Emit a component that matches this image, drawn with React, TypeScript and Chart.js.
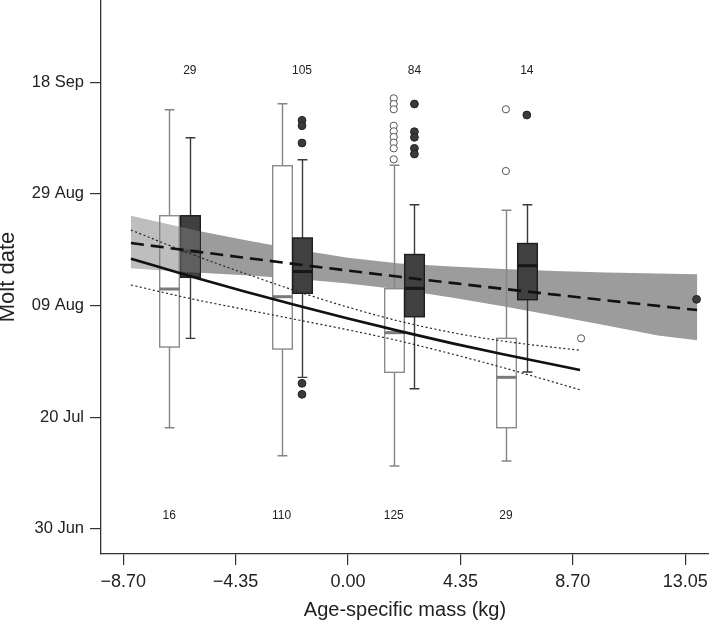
import React, { useEffect, useRef } from 'react';
import { Chart, registerables } from 'chart.js';

Chart.register(...registerables);

const FONT = "'Liberation Sans', Arial, sans-serif";

// Axes
const X_MIN = -9.559;
const X_MAX = 13.971;
const Y_MIN = -4.53;
const Y_MAX = 94.75;
const X_TICKS = [-8.7, -4.35, 0, 4.35, 8.7, 13.05];
const X_TICK_LABELS = ['\u22128.70', '\u22124.35', '0.00', '4.35', '8.70', '13.05'];
const Y_TICKS = [0, 20, 40, 60, 80]; // days after 30 Jun
const Y_TICK_LABELS = ['30 Jun', '20 Jul', '09 Aug', '29 Aug', '18 Sep'];

// White boxplots (days after 30 Jun)
const WHITE_X = [-6.92, -2.57, 1.77, 6.11];
const WHITE_WHISK_LO = [18.1, 13.08, 11.24, 12.13];
const WHITE_Q1 = [32.56, 32.2, 28.03, 18.1];
const WHITE_MED = [42.96, 41.58, 35.13, 27.13];
const WHITE_Q3 = [56.09, 65.05, 43.01, 34.12];
const WHITE_WHISK_HI = [75.09, 76.16, 65.13, 57.06];
const WHITE_OUTLIERS = [
  [],
  [],
  [77.13, 76.11, 75.16, 72.22, 71.22, 70.2, 69.18, 68.17, 66.2],
  [75.16, 64.1],
];
const WHITE_COUNTS = ['16', '110', '125', '29'];
const EXTRA_WHITE_X = [9.02];
const EXTRA_WHITE_Y = [34.12];

// Dark boxplots
const DARK_X = [-6.12, -1.78, 2.57, 6.92];
const DARK_WHISK_LO = [34.12, 27.13, 25.09, 28.08];
const DARK_Q1 = [45.05, 42.19, 37.99, 41.04];
const DARK_MED = [49.77, 46.09, 43.08, 47.13];
const DARK_Q3 = [56.09, 52.1, 49.14, 51.11];
const DARK_WHISK_HI = [70.07, 66.13, 58.06, 58.06];
const DARK_OUTLIERS = [
  [],
  [73.19, 72.22, 69.12, 26.06, 24.09],
  [76.11, 71.15, 70.14, 68.17, 67.15],
  [74.14],
];
const DARK_COUNTS = ['29', '105', '84', '14'];
const EXTRA_DARK_X = [13.49];
const EXTRA_DARK_Y = [41.11];

const TOP_LABEL_Y = 82.0;
const BOTTOM_LABEL_Y = 2.28;
const BOX_HALF = 0.38;
const CAP_HALF = 0.19;
const BAND_SPLIT = -5.72;

// White-group fit (solid) and its confidence limits (dotted)
const LINE_X = [-8.4, -6, -4, -2, 0, 2, 4, 6, 8.98];
const SOLID_Y = [48.39, 45.13, 42.53, 40.04, 37.67, 35.41, 33.26, 31.25, 28.44];
const UPPER_DOT_Y = [53.53, 49.11, 45.76, 42.6, 39.7, 37.18, 35.18, 33.63, 31.97];
const LOWER_DOT_Y = [43.68, 41.15, 39.3, 37.48, 35.64, 33.64, 31.34, 28.87, 24.91];

// Dark-group fit (dashed) and its confidence band (grey)
const DASH_X = [-8.4, -6, -4, -2, 0, 2, 4, 6, 8, 10, 12, 13.51];
const DASH_Y = [51.2, 49.75, 48.57, 47.4, 46.26, 45.14, 44.05, 42.99, 41.95, 40.93, 39.93, 39.19];
const BAND_UPPER = [56.09, 53.57, 51.72, 50.02, 48.58, 47.53, 46.99, 46.54, 46.18, 45.91, 45.72, 45.59];
const BAND_LOWER = [46.67, 45.93, 45.41, 44.78, 43.95, 42.85, 41.43, 39.86, 38.15, 36.4, 34.62, 33.76];

const toPts = (xs: number[], ys: number[]) => xs.map((v, i) => ({ x: v, y: ys[i] }));

function bandPath(ctx: CanvasRenderingContext2D, xs: any, ys: any) {
  ctx.beginPath();
  DASH_X.forEach((v, i) => {
    const px = xs.getPixelForValue(v);
    const py = ys.getPixelForValue(BAND_UPPER[i]);
    if (i === 0) ctx.moveTo(px, py);
    else ctx.lineTo(px, py);
  });
  for (let i = DASH_X.length - 1; i >= 0; i--) {
    ctx.lineTo(xs.getPixelForValue(DASH_X[i]), ys.getPixelForValue(BAND_LOWER[i]));
  }
  ctx.closePath();
}

function drawBox(
  ctx: CanvasRenderingContext2D, xs: any, ys: any,
  cxv: number, lo: number, q1: number, med: number, q3: number, hi: number,
  dark: boolean
) {
  const cx = Math.round(xs.getPixelForValue(cxv)) + 0.5;
  const hw = xs.getPixelForValue(cxv + BOX_HALF) - xs.getPixelForValue(cxv);
  const cw = xs.getPixelForValue(cxv + CAP_HALF) - xs.getPixelForValue(cxv);
  const pLo = ys.getPixelForValue(lo);
  const pQ1 = ys.getPixelForValue(q1);
  const pMed = ys.getPixelForValue(med);
  const pQ3 = ys.getPixelForValue(q3);
  const pHi = ys.getPixelForValue(hi);
  ctx.save();
  ctx.strokeStyle = dark ? '#3a3a3a' : '#858585';
  ctx.lineWidth = 1.4;
  ctx.beginPath();
  ctx.moveTo(cx, pLo); ctx.lineTo(cx, pQ1);
  ctx.moveTo(cx, pQ3); ctx.lineTo(cx, pHi);
  ctx.moveTo(cx - cw, pLo); ctx.lineTo(cx + cw, pLo);
  ctx.moveTo(cx - cw, pHi); ctx.lineTo(cx + cw, pHi);
  ctx.stroke();
  ctx.fillStyle = dark ? '#404040' : '#ffffff';
  ctx.fillRect(cx - hw, pQ3, 2 * hw, pQ1 - pQ3);
  ctx.strokeStyle = dark ? '#1e1e1e' : '#8a8a8a';
  ctx.lineWidth = 1.4;
  ctx.strokeRect(cx - hw, pQ3, 2 * hw, pQ1 - pQ3);
  ctx.strokeStyle = dark ? '#161616' : '#7a7a7a';
  ctx.lineWidth = 3;
  ctx.beginPath();
  ctx.moveTo(cx - hw, pMed); ctx.lineTo(cx + hw, pMed);
  ctx.stroke();
  ctx.restore();
}

const boxPlugin = {
  id: 'boxes',
  beforeDatasetsDraw(chart: any) {
    const { ctx, chartArea } = chart;
    const xs = chart.scales.x;
    const ys = chart.scales.y;
    const split = xs.getPixelForValue(BAND_SPLIT);
    // opaque band part (behind boxes)
    ctx.save();
    ctx.beginPath();
    ctx.rect(split, chartArea.top, chartArea.right - split, chartArea.bottom - chartArea.top);
    ctx.clip();
    bandPath(ctx, xs, ys);
    ctx.fillStyle = '#9c9c9c';
    ctx.fill();
    ctx.restore();
    // boxes
    WHITE_X.forEach((v, i) =>
      drawBox(ctx, xs, ys, v, WHITE_WHISK_LO[i], WHITE_Q1[i], WHITE_MED[i], WHITE_Q3[i], WHITE_WHISK_HI[i], false)
    );
    DARK_X.forEach((v, i) =>
      drawBox(ctx, xs, ys, v, DARK_WHISK_LO[i], DARK_Q1[i], DARK_MED[i], DARK_Q3[i], DARK_WHISK_HI[i], true)
    );
    // translucent band part (over first pair of boxes)
    ctx.save();
    ctx.beginPath();
    ctx.rect(chartArea.left, chartArea.top, split - chartArea.left, chartArea.bottom - chartArea.top);
    ctx.clip();
    bandPath(ctx, xs, ys);
    ctx.fillStyle = 'rgba(125,125,125,0.5)';
    ctx.fill();
    ctx.restore();
  },
  afterDatasetsDraw(chart: any) {
    const { ctx } = chart;
    const xs = chart.scales.x;
    const ys = chart.scales.y;
    ctx.save();
    ctx.font = `12px ${FONT}`;
    ctx.fillStyle = '#222';
    ctx.textAlign = 'center';
    ctx.textBaseline = 'middle';
    DARK_COUNTS.forEach((t, i) => ctx.fillText(t, xs.getPixelForValue(DARK_X[i]), ys.getPixelForValue(TOP_LABEL_Y)));
    WHITE_COUNTS.forEach((t, i) => ctx.fillText(t, xs.getPixelForValue(WHITE_X[i]), ys.getPixelForValue(BOTTOM_LABEL_Y)));
    ctx.restore();
  },
};

export default function App() {
  const ref = useRef<HTMLCanvasElement>(null);
  useEffect(() => {
    document.body.style.margin = '0';
    const whitePts = WHITE_OUTLIERS.flatMap((ys, i) => ys.map((v) => ({ x: WHITE_X[i], y: v }))).concat(
      toPts(EXTRA_WHITE_X, EXTRA_WHITE_Y)
    );
    const darkPts = DARK_OUTLIERS.flatMap((ys, i) => ys.map((v) => ({ x: DARK_X[i], y: v }))).concat(
      toPts(EXTRA_DARK_X, EXTRA_DARK_Y)
    );
    const lineBase = { showLine: true, pointRadius: 0, cubicInterpolationMode: 'monotone', fill: false };
    const chart = new Chart(ref.current as HTMLCanvasElement, {
      type: 'scatter',
      data: {
        datasets: [
          { type: 'scatter', data: darkPts, pointRadius: 3.9, pointBackgroundColor: '#3a3a3a', pointBorderColor: '#222', pointBorderWidth: 1, order: 0 },
          { type: 'scatter', data: whitePts, pointRadius: 3.6, pointBackgroundColor: '#fff', pointBorderColor: '#555', pointBorderWidth: 1, order: 0 },
          { ...lineBase, data: toPts(DASH_X, DASH_Y), borderColor: '#111', borderWidth: 2.6, borderDash: [13, 7], order: 1 } as any,
          { ...lineBase, data: toPts(LINE_X, SOLID_Y), borderColor: '#111', borderWidth: 2.6, order: 1 } as any,
          { ...lineBase, data: toPts(LINE_X, UPPER_DOT_Y), borderColor: '#222', borderWidth: 1.2, borderDash: [2, 2.5], order: 1 } as any,
          { ...lineBase, data: toPts(LINE_X, LOWER_DOT_Y), borderColor: '#222', borderWidth: 1.2, borderDash: [2, 2.5], order: 1 } as any,
        ],
      },
      options: {
        responsive: false,
        animation: false,
        layout: { padding: 0, autoPadding: false },
        plugins: { legend: { display: false }, tooltip: { enabled: false } },
        scales: {
          x: {
            type: 'linear',
            min: X_MIN,
            max: X_MAX,
            afterBuildTicks: (s: any) => { s.ticks = X_TICKS.map((v) => ({ value: v })); },
            afterFit: (s: any) => { s.height = 71; s.paddingLeft = 0; s.paddingRight = 0; },
            ticks: {
              autoSkip: false,
              maxRotation: 0,
              padding: 6,
              color: '#222',
              font: { size: 18, family: FONT },
              callback: (v: any) => X_TICK_LABELS[X_TICKS.findIndex((t) => Math.abs(t - v) < 1e-6)],
            },
            grid: { drawOnChartArea: false, drawTicks: true, tickLength: 11, color: '#333', lineWidth: 1.2 },
            border: { display: true, color: '#333', width: 1.3 },
            title: { display: true, text: 'Age-specific mass (kg)', color: '#222', font: { size: 20, family: FONT, lineHeight: 1.2 }, padding: { top: 0, bottom: 3 } },
          },
          y: {
            type: 'linear',
            min: Y_MIN,
            max: Y_MAX,
            afterBuildTicks: (s: any) => { s.ticks = Y_TICKS.map((v) => ({ value: v })); },
            afterFit: (s: any) => { s.width = 101; s.paddingTop = 0; s.paddingBottom = 0; },
            ticks: {
              autoSkip: false,
              padding: 6,
              color: '#222',
              font: { size: 16.5, family: FONT },
              callback: (v: any) => Y_TICK_LABELS[Y_TICKS.findIndex((t) => Math.abs(t - v) < 1e-6)],
            },
            grid: { drawOnChartArea: false, drawTicks: true, tickLength: 11, color: '#333', lineWidth: 1.2 },
            border: { display: true, color: '#333', width: 1.3 },
            title: { display: true, text: 'Molt date', color: '#222', font: { size: 22, family: FONT, lineHeight: 0.75 }, padding: { top: 0, bottom: 0 } },
          },
        },
      } as any,
      plugins: [boxPlugin],
    });
    return () => chart.destroy();
  }, []);
  return (
    <div style={{ position: 'fixed', left: 0, top: 0, width: 709, height: 625, background: '#fff' }}>
      <canvas ref={ref} width={709} height={625} style={{ width: 709, height: 625, display: 'block' }} />
    </div>
  );
}
